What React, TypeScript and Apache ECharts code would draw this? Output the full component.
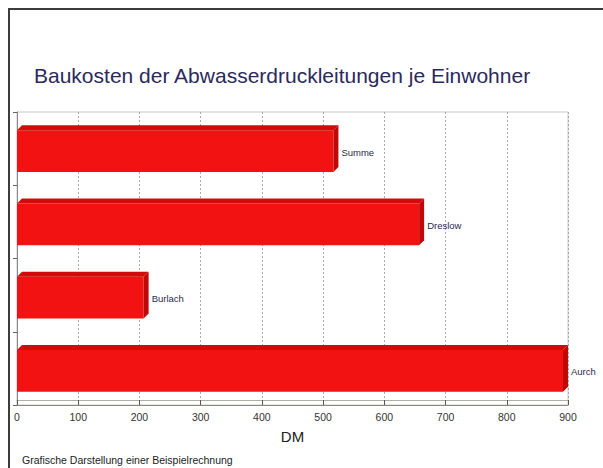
import React, { useEffect, useRef } from "react";
import * as echarts from "echarts";

const categories = ["Summe", "Dreslow", "Burlach", "Aurch"];
const values = [525, 665, 215, 900];
const xTicks = [0, 100, 200, 300, 400, 500, 600, 700, 800, 900];

const titleText = "Baukosten der Abwasserdruckleitungen je Einwohner";
const axisName = "DM";
const footnote = "Grafische Darstellung einer Beispielrechnung";

export default function App() {
  const ref = useRef<HTMLDivElement>(null);
  useEffect(() => {
    const chart = echarts.init(ref.current!, null, { renderer: "svg" });
    const depth = 5;
    chart.setOption({
      animation: false,
      backgroundColor: "#ffffff",
      textStyle: { fontFamily: "Liberation Sans, Arial, sans-serif" },
      title: {
        text: titleText,
        left: 29,
        top: 60,
        textStyle: { fontSize: 21, fontWeight: "normal", color: "#2b2a5c" },
      },
      grid: {
        left: 17,
        right: 35,
        top: 112,
        bottom: 63,
        show: true,
        borderColor: "#c8c8c8",
        borderWidth: 1,
      },
      xAxis: [
        {
          type: "value",
          min: 0,
          max: 900,
          interval: 100,
          position: "bottom",
          axisLine: { show: true, lineStyle: { color: "#8a8a80" } },
          axisTick: { show: true, length: 5, inside: true, lineStyle: { color: "#555" } },
          axisLabel: { fontSize: 10.5, color: "#333", margin: 6, formatter: (v: number) => (xTicks.includes(v) ? String(v) : "") },
          splitLine: { show: true, lineStyle: { color: "#aaaaaa", type: [2, 2] } },
          name: axisName,
          nameLocation: "middle",
          nameGap: 24,
          nameTextStyle: { fontSize: 15, color: "#222" },
        },
        {
          type: "value",
          min: 0,
          max: 900,
          interval: 100,
          position: "bottom",
          offset: -5,
          axisLine: { show: true, lineStyle: { color: "#b0b0a8" } },
          axisTick: { show: false },
          axisLabel: { show: false },
          splitLine: { show: false },
        },
      ],
      yAxis: {
        type: "category",
        data: categories,
        inverse: true,
        axisLine: { show: true, lineStyle: { color: "#888" } },
        axisTick: { show: true, length: 4, lineStyle: { color: "#666" } },
        axisLabel: { show: false },
        splitLine: { show: false },
      },
      series: [
        {
          type: "custom",
          xAxisIndex: 0,
          data: values.map((v, i) => [v, i]),
          encode: { x: 0, y: 1 },
          renderItem: (params: any, api: any) => {
            const v = api.value(0);
            const c = api.value(1);
            const end = api.coord([v, c]);
            const start = api.coord([0, c]);
            const band = api.size([0, 1])[1];
            const h = band * 0.64;
            const yTop = end[1] - h / 2;
            const yBot = end[1] + h / 2;
            const x0 = start[0];
            const x1 = end[0];
            const name = categories[params.dataIndex];
            return {
              type: "group",
              children: [
                {
                  type: "rect",
                  shape: { x: x0, y: yTop + depth, width: x1 - depth - x0, height: yBot - yTop - depth },
                  style: { fill: "#f21212" },
                },
                {
                  type: "polygon",
                  shape: {
                    points: [
                      [x0, yTop + depth],
                      [x0 + depth, yTop],
                      [x1, yTop],
                      [x1 - depth, yTop + depth],
                    ],
                  },
                  style: { fill: "#d40a0a" },
                },
                {
                  type: "polygon",
                  shape: {
                    points: [
                      [x1 - depth, yTop + depth],
                      [x1, yTop],
                      [x1, yBot - depth],
                      [x1 - depth, yBot],
                    ],
                  },
                  style: { fill: "#c00808" },
                },
                {
                  type: "text",
                  style: {
                    text: name,
                    x: x1 + 3,
                    y: end[1] + depth / 2 + 1,
                    fill: "#2b2a4c",
                    fontSize: 9.5,
                    fontFamily: "Liberation Sans, Arial, sans-serif",
                    verticalAlign: "middle",
                    align: "left",
                  },
                },
              ],
            };
          },
          z: 3,
        },
      ],
      graphic: [
        {
          type: "polyline",
          shape: { points: [[9, 468], [9, 9], [603, 9]] },
          style: { stroke: "#3c3c3c", lineWidth: 2, fill: null },
          z: 10,
        },
        {
          type: "text",
          left: 22,
          top: 454,
          style: { text: footnote, fontSize: 10.5, fill: "#222", fontFamily: "Liberation Sans, Arial, sans-serif" },
        },
      ],
    });
    return () => chart.dispose();
  }, []);
  return <div ref={ref} style={{ position: "fixed", left: 0, top: 0, width: 603, height: 468 }} />;
}
